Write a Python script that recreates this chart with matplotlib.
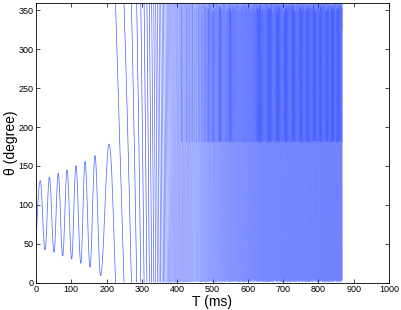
import numpy as np
import matplotlib
matplotlib.use('Agg')
import matplotlib.pyplot as plt
from matplotlib.collections import LineCollection
from matplotlib.colors import to_rgba

matplotlib.rcParams['path.simplify'] = False
plt.rcParams['font.family'] = ['Liberation Sans', 'DejaVu Sans']

# ---- data ----
# oscillation phase: start point and successive extrema (ms, degree)
osc_t = [0, 12, 25.5, 38, 51, 63, 75.5, 88, 101, 113, 127, 139, 153, 167, 183, 207]
osc_deg = [48, 131, 41.8, 135.4, 38.9, 140.5, 34.1, 144.8, 30.2, 150.3, 24.7,
           155.5, 19.6, 163.2, 8.8, 178]

# rotation phase: angular speed knots (ms, degree per ms), angle decreasing
rot_t = [207, 216, 226, 252, 270, 290, 310, 330, 350, 380, 420, 480, 560, 650, 868]
rot_rate = [0, 12, 15, 15, 20, 30, 45, 60, 80, 120, 200, 330, 400, 470, 500]

# share of turns that swing back inside the upper half, and swing-back tops
exc_t = [375, 470, 868]
exc_share = [0.0, 0.3, 0.3]
exc_low = 180.5
exc_tops = [357, 352, 355, 349, 358, 353, 350, 356]
t_end = 868

xticks = list(range(0, 1001, 100))
yticks = list(range(0, 351, 50))

# ---- build the curve ----
ts, ths = [], []
for i in range(len(osc_t) - 1):
    a, b = osc_deg[i], osc_deg[i + 1]
    s = np.linspace(0, 1, 60, endpoint=False)
    tt = osc_t[i] + (osc_t[i + 1] - osc_t[i]) * s
    if i == 0:
        yy = a + (b - a) * np.sin(np.pi / 2 * s)
    else:
        yy = a + (b - a) * (1 - np.cos(np.pi * s)) / 2
    ts.append(tt)
    ths.append(yy)
t_osc = np.concatenate(ts)
th_osc = np.concatenate(ths)

dt = 0.004
tg = np.arange(osc_t[-1], t_end, dt)
rate = np.interp(tg, rot_t, rot_rate)
phi = np.concatenate([[0], np.cumsum((rate[1:] + rate[:-1]) / 2 * dt)])
u = osc_deg[-1] - phi
ang = np.empty_like(u)
pos = u > 0
ang[pos] = u[pos]
v = -u[~pos] / 360.0
k = np.floor(v).astype(int)
p = v - k
tv = tg[~pos]
nk = k.max() + 1
start_idx = np.clip(np.searchsorted(k, np.arange(nk)), 0, len(k) - 1)
share = np.interp(tv[start_idx], exc_t, exc_share)
cum = np.cumsum(share)
flags = np.floor(cum) > np.floor(np.concatenate([[0], cum[:-1]]))
tops = np.array([exc_tops[j % len(exc_tops)] for j in range(nk)])
fl = flags[k]
hi = tops[k]
span = hi - exc_low
d1 = 360 - exc_low
L = 360 + 2 * span
s = p * L
a_exc = np.where(s < d1, 360 - s,
        np.where(s < d1 + span, exc_low + (s - d1),
        np.where(s < d1 + 2 * span, hi - (s - d1 - span),
                 exc_low - (s - d1 - 2 * span))))
ang[~pos] = np.where(fl, a_exc, 360 - 360 * p)

# first descent joins the oscillation line
t_line = np.concatenate([t_osc, tg[pos]])
th_line = np.concatenate([th_osc, ang[pos]])

# each turn drawn separately
segs, cols = [], []
tr = tg[~pos]
ar = ang[~pos]
bounds = np.concatenate([start_idx, [len(k)]])
for j in range(nk):
    i0, i1 = bounds[j], bounds[j + 1]
    if i1 - i0 < 2:
        continue
    segs.append(np.column_stack([tr[i0:i1], ar[i0:i1]]))
    al = float(np.interp(tr[i0], [320, 450], [0.8, 0.3]))
    cols.append(to_rgba('#0022ff', al))

# ---- draw ----
fig = plt.figure(figsize=(4.02, 3.10), dpi=100)
ax = fig.add_axes([36 / 402, 27.5 / 310, (389 - 36) / 402, (282.5 - 2.7) / 310])
ax.plot(t_line, th_line, color='#2a4dff', lw=0.55, alpha=0.8)
lc = LineCollection(segs, colors=cols, linewidths=0.45)
ax.add_collection(lc)
ax.set_xlim(0, 1000)
ax.set_ylim(0, 360)
ax.set_xticks(xticks)
ax.set_yticks(yticks)
ax.tick_params(direction='in', top=True, right=True, length=3, width=0.5,
               labelsize=6.5, pad=2)
for sp in ax.spines.values():
    sp.set_linewidth(0.6)
ax.set_xlabel('T (ms)', fontsize=10)
ax.set_ylabel('θ (degree)', fontsize=10)
ax.xaxis.set_label_coords(0.5, -0.043)
ax.yaxis.set_label_coords(-0.052, 0.5)
fig.savefig('out.png', dpi=100)
